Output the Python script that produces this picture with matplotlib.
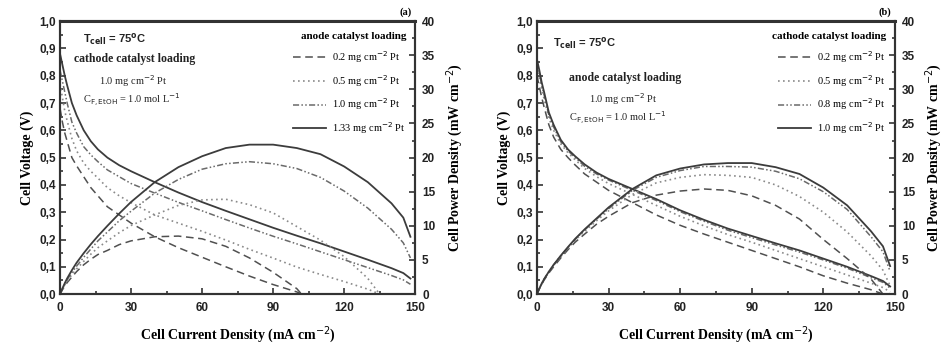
import matplotlib.pyplot as plt
from matplotlib.ticker import MultipleLocator, FuncFormatter

# current density points (mA cm-2)
i_full = [0, 1, 2, 3, 5, 7, 10, 13, 16, 20, 25, 30, 40, 50, 60, 70, 80, 90, 100, 110, 120, 130, 140, 145, 148]

# ---- panel (a): anode loading ----
i_a02 = [0, 1, 2, 3, 5, 7, 10, 13, 16, 20, 25, 30, 40, 50, 60, 70, 80, 90, 100, 102]
v_a02 = [0.68, 0.63, 0.59, 0.56, 0.50, 0.47, 0.43, 0.39, 0.36, 0.32, 0.29, 0.26, 0.21, 0.17, 0.135, 0.10, 0.066, 0.035, 0.008, 0.0]
p_a02 = [0, 0.63, 1.18, 1.68, 2.5, 3.3, 4.3, 5.1, 5.8, 6.4, 7.25, 7.8, 8.4, 8.5, 8.1, 7.0, 5.3, 3.2, 0.8, 0.0]

i_a05 = [0, 1, 2, 3, 5, 7, 10, 13, 16, 20, 25, 30, 40, 50, 60, 70, 80, 90, 100, 110, 120, 130, 135]
v_a05 = [0.77, 0.72, 0.67, 0.635, 0.57, 0.525, 0.48, 0.45, 0.425, 0.39, 0.36, 0.335, 0.29, 0.26, 0.23, 0.198, 0.164, 0.132, 0.099, 0.072, 0.046, 0.018, 0.0]
p_a05 = [0, 0.72, 1.34, 1.9, 2.85, 3.7, 4.8, 5.85, 6.8, 7.8, 9.0, 10.05, 11.6, 13.0, 13.8, 13.9, 13.1, 11.9, 9.9, 7.9, 5.5, 2.3, 0.0]

v_a10 = [0.82, 0.78, 0.74, 0.70, 0.63, 0.59, 0.54, 0.51, 0.485, 0.455, 0.43, 0.405, 0.37, 0.336, 0.305, 0.273, 0.242, 0.212, 0.184, 0.155, 0.126, 0.097, 0.068, 0.052, 0.036]
p_a10 = [0, 0.78, 1.48, 2.1, 3.15, 4.1, 5.4, 6.6, 7.8, 9.1, 10.75, 12.15, 14.8, 16.8, 18.3, 19.1, 19.4, 19.1, 18.4, 17.1, 15.1, 12.6, 9.5, 7.5, 5.3]

v_a133 = [0.88, 0.84, 0.80, 0.765, 0.70, 0.655, 0.60, 0.56, 0.53, 0.50, 0.472, 0.45, 0.41, 0.372, 0.337, 0.305, 0.274, 0.243, 0.214, 0.186, 0.156, 0.126, 0.095, 0.077, 0.057]
p_a133 = [0, 0.84, 1.6, 2.3, 3.5, 4.6, 6.0, 7.3, 8.5, 10.0, 11.8, 13.5, 16.4, 18.6, 20.2, 21.4, 21.9, 21.9, 21.4, 20.5, 18.7, 16.4, 13.3, 11.2, 8.4]

# ---- panel (b): cathode loading ----
i_b02 = [0, 1, 2, 3, 5, 7, 10, 13, 16, 20, 25, 30, 40, 50, 60, 70, 80, 90, 100, 110, 120, 130, 140, 145]
v_b02 = [0.80, 0.76, 0.72, 0.685, 0.62, 0.575, 0.53, 0.50, 0.473, 0.44, 0.41, 0.38, 0.335, 0.29, 0.252, 0.22, 0.19, 0.16, 0.13, 0.10, 0.067, 0.04, 0.016, 0.0]
p_b02 = [0, 0.76, 1.44, 2.05, 3.1, 4.0, 5.3, 6.5, 7.6, 8.8, 10.25, 11.4, 13.4, 14.5, 15.1, 15.4, 15.2, 14.4, 13.0, 11.0, 8.0, 5.2, 2.2, 0.0]

v_b05 = [0.83, 0.79, 0.75, 0.715, 0.645, 0.60, 0.55, 0.518, 0.492, 0.46, 0.43, 0.405, 0.365, 0.325, 0.285, 0.25, 0.218, 0.19, 0.16, 0.13, 0.10, 0.07, 0.04, 0.024, 0.008]
p_b05 = [0, 0.79, 1.5, 2.15, 3.2, 4.2, 5.5, 6.7, 7.9, 9.2, 10.75, 12.2, 14.6, 16.3, 17.1, 17.5, 17.4, 17.1, 16.0, 14.3, 12.0, 9.1, 5.6, 3.5, 1.2]

v_b08 = [0.85, 0.81, 0.765, 0.73, 0.655, 0.612, 0.558, 0.525, 0.50, 0.468, 0.44, 0.418, 0.38, 0.343, 0.302, 0.267, 0.234, 0.207, 0.18, 0.154, 0.125, 0.095, 0.06, 0.043, 0.022]
p_b08 = [0, 0.81, 1.53, 2.2, 3.3, 4.3, 5.6, 6.8, 8.0, 9.4, 11.0, 12.5, 15.2, 17.1, 18.1, 18.7, 18.7, 18.6, 18.0, 16.9, 15.0, 12.4, 8.4, 6.2, 3.3]

v_b10 = [0.86, 0.82, 0.775, 0.74, 0.665, 0.62, 0.565, 0.53, 0.505, 0.475, 0.445, 0.422, 0.385, 0.348, 0.307, 0.272, 0.24, 0.213, 0.186, 0.16, 0.13, 0.10, 0.066, 0.048, 0.028]
p_b10 = [0, 0.82, 1.55, 2.2, 3.3, 4.3, 5.65, 6.9, 8.1, 9.5, 11.1, 12.7, 15.4, 17.4, 18.4, 19.0, 19.2, 19.2, 18.6, 17.6, 15.6, 13.0, 9.2, 7.0, 4.1]

labels_a = ["0.2 mg cm$^{-2}$ Pt", "0.5 mg cm$^{-2}$ Pt", "1.0 mg cm$^{-2}$ Pt", "1.33 mg cm$^{-2}$ Pt"]
labels_b = ["0.2 mg cm$^{-2}$ Pt", "0.5 mg cm$^{-2}$ Pt", "0.8 mg cm$^{-2}$ Pt", "1.0 mg cm$^{-2}$ Pt"]

styles = [
    dict(ls=(0, (5, 3)), color="#505050", lw=1.1),
    dict(ls=(0, (1, 2)), color="#8a8a8a", lw=1.2),
    dict(ls=(0, (4, 1.5, 1, 1.5, 1, 1.5)), color="#6a6a6a", lw=1.1),
    dict(ls="-", color="#3c3c3c", lw=1.3),
]

SERIF = "Liberation Serif"
SANS = "Liberation Sans"

comma = FuncFormatter(lambda v, p: f"{v:.1f}".replace(".", ","))


def draw_panel(fig, rect, series, labels, tag, leg_title, notes):
    ax = fig.add_axes(rect)
    ax2 = ax.twinx()
    for (ii, vv, pp), st, lab in zip(series, styles, labels):
        ax.plot(ii, vv, label=lab, **st)
        ax2.plot(ii, pp, **st)
    ax.set_xlim(0, 150)
    ax.set_ylim(0, 1.0)
    ax2.set_ylim(0, 40)
    ax.xaxis.set_major_locator(MultipleLocator(30))
    ax.xaxis.set_minor_locator(MultipleLocator(15))
    ax.yaxis.set_major_locator(MultipleLocator(0.1))
    ax.yaxis.set_minor_locator(MultipleLocator(0.05))
    ax.yaxis.set_major_formatter(comma)
    ax2.yaxis.set_major_locator(MultipleLocator(5))
    ax2.yaxis.set_minor_locator(MultipleLocator(2.5))
    for a in (ax, ax2):
        a.tick_params(which="both", direction="in", width=1.1, colors="#222222")
        a.tick_params(which="major", length=4, labelsize=8.5, pad=3)
        a.tick_params(which="minor", length=2)
        for lbl in a.get_xticklabels() + a.get_yticklabels():
            lbl.set_fontfamily(SANS)
            lbl.set_fontweight("bold")
        for s in a.spines.values():
            s.set_linewidth(1.5)
            s.set_color("#333333")
    ax.tick_params(axis="x", pad=6)
    ax2.tick_params(axis="y", pad=5)
    ax.spines["top"].set_linewidth(2.2)
    ax.set_xlabel("Cell Current Density (mA cm$^{-2}$)", family=SERIF, weight="bold",
                  fontsize=10, labelpad=7)
    ax.set_ylabel("Cell Voltage (V)", family=SERIF, weight="bold", fontsize=10, labelpad=4)
    ax2.set_ylabel("Cell Power Density (mW cm$^{-2}$)", family=SERIF, weight="bold",
                   fontsize=10, labelpad=6)
    ax.text(0.99, 1.015, tag, transform=ax.transAxes, ha="right", va="bottom",
            family=SERIF, fontsize=7.5, weight="bold")
    leg = ax.legend(loc="upper right", bbox_to_anchor=(0.995, 0.985), frameon=False,
                    title=leg_title, prop=dict(family=SERIF, size=7.5),
                    title_fontproperties=dict(family=SERIF, size=8, weight="bold"),
                    handlelength=3.2, labelspacing=0.75, handletextpad=0.6,
                    borderpad=0.2)
    leg._legend_box.align = "right"
    for t, x, y, kw in notes:
        ax.text(x, y, t, transform=ax.transAxes, color="#222222", **kw)
    return ax


fig = plt.figure(figsize=(9.47, 3.46), dpi=100)

tcell = dict(family=SANS, weight="bold", fontsize=8, ha="left", va="center")
bold_serif = dict(family=SERIF, weight="bold", fontsize=8.5, ha="left", va="center")
serif = dict(family=SERIF, fontsize=7.5, ha="left", va="center")

notes_a = [
    (r"T$_{\bf cell}$ = 75$^{\bf o}$C", 0.065, 0.935, tcell),
    ("cathode catalyst loading", 0.04, 0.86, bold_serif),
    ("1.0 mg cm$^{-2}$ Pt", 0.11, 0.78, serif),
    ("C$_{\\rm F,EtOH}$ = 1.0 mol L$^{-1}$", 0.065, 0.713, serif),
]
notes_b = [
    (r"T$_{\bf cell}$ = 75$^{\bf o}$C", 0.045, 0.92, tcell),
    ("anode catalyst loading", 0.09, 0.79, bold_serif),
    ("1.0 mg cm$^{-2}$ Pt", 0.145, 0.715, serif),
    ("C$_{\\rm F,EtOH}$ = 1.0 mol L$^{-1}$", 0.09, 0.645, serif),
]

series_a = [(i_a02, v_a02, p_a02), (i_a05, v_a05, p_a05),
            (i_full, v_a10, p_a10), (i_full, v_a133, p_a133)]
series_b = [(i_b02, v_b02, p_b02), (i_full, v_b05, p_b05),
            (i_full, v_b08, p_b08), (i_full, v_b10, p_b10)]

draw_panel(fig, [0.0634, 0.150, 0.375, 0.789], series_a, labels_a, "(a)",
           "anode catalyst loading", notes_a)
draw_panel(fig, [0.567, 0.150, 0.378, 0.789], series_b, labels_b, "(b)",
           "cathode catalyst loading", notes_b)

fig.savefig("out.png", dpi=100)
